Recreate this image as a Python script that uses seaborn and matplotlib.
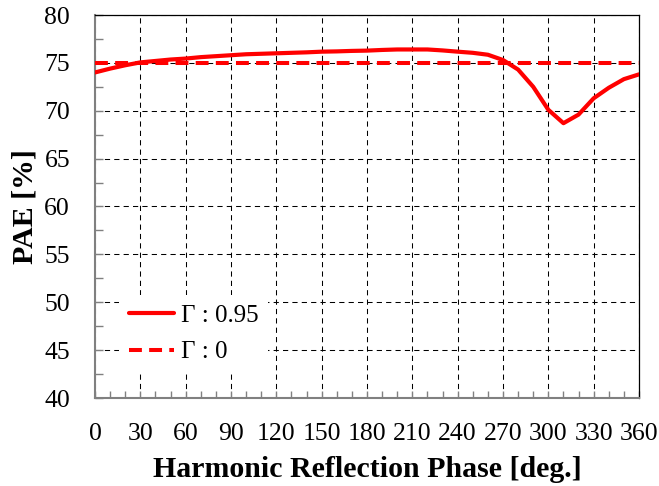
import numpy as np
import pandas as pd
import matplotlib
matplotlib.use("Agg")
import matplotlib.pyplot as plt
from matplotlib.ticker import MultipleLocator
import seaborn as sns

# Harmonic reflection phase sweep (degrees) and PAE (%)
phase = [0, 10, 20, 30, 40, 50, 60, 70, 80, 90, 100, 110, 120, 130, 140, 150,
         160, 170, 180, 190, 200, 210, 220, 230, 240, 250, 260, 270, 280, 290,
         300, 310, 320, 330, 340, 350, 360]
pae_gamma_095 = [74.0, 74.4, 74.75, 75.05, 75.2, 75.35, 75.45, 75.6, 75.7, 75.8,
                 75.9, 75.95, 76.0, 76.05, 76.1, 76.17, 76.2, 76.25, 76.28, 76.35,
                 76.4, 76.4, 76.4, 76.3, 76.17, 76.05, 75.85, 75.3, 74.3, 72.5,
                 70.1, 68.7, 69.6, 71.3, 72.4, 73.3, 73.8]
phase_gamma_0 = [0, 360]
pae_gamma_0 = [75.0, 75.0]

labels = ["\u0393 : 0.95", "\u0393 : 0"]
x_ticks = [0, 30, 60, 90, 120, 150, 180, 210, 240, 270, 300, 330, 360]
y_ticks = [40, 45, 50, 55, 60, 65, 70, 75, 80]

sns.set_theme(style="white")
plt.rcParams["font.family"] = ["Liberation Serif", "DejaVu Serif"]
plt.rcParams["text.color"] = "black"
plt.rcParams["axes.labelcolor"] = "black"

df = pd.concat([
    pd.DataFrame({"phase": phase, "pae": pae_gamma_095, "case": labels[0]}),
    pd.DataFrame({"phase": phase_gamma_0, "pae": pae_gamma_0, "case": labels[1]}),
])

fig = plt.figure(figsize=(6.59, 4.86), dpi=100)
ax = fig.add_axes([95 / 659, 1 - 398 / 486, 544 / 659, 383 / 486])

sns.lineplot(data=df[df["case"] == labels[0]], x="phase", y="pae", ax=ax,
             color="#ff0000", linewidth=3.0, label=labels[0], zorder=4)
sns.lineplot(data=df[df["case"] == labels[1]], x="phase", y="pae", ax=ax,
             color="#ff0000", linewidth=2.9, label=labels[1], zorder=4)
dash_line = ax.get_lines()[1]
dash_line.set_linestyle((0, (3.2, 1.8)))

ax.set_xlim(0, 360)
ax.set_ylim(40, 80)
ax.set_xticks(x_ticks)
ax.set_yticks(y_ticks)
ax.xaxis.set_minor_locator(MultipleLocator(10))
ax.yaxis.set_minor_locator(MultipleLocator(2.5))

ax.grid(True, which="major", color="black", linestyle=(0, (5, 4)), linewidth=0.75)
ax.set_axisbelow(True)

ax.tick_params(axis="both", which="both", direction="in", color="#808080",
               width=1.0, labelsize=18.5, labelcolor="black")
ax.tick_params(axis="y", which="both", length=6, pad=18, left=True)
ax.tick_params(axis="x", which="both", length=5, pad=18, bottom=True)

for side in ("left", "bottom"):
    ax.spines[side].set_color("#808080")
    ax.spines[side].set_linewidth(1.5)
for side in ("top", "right"):
    ax.spines[side].set_color("black")
    ax.spines[side].set_linewidth(0.9)

ax.set_xlabel("Harmonic Reflection Phase [deg.]", fontsize=21.5,
              fontweight="bold", labelpad=8, color="black")
ax.set_ylabel("PAE [%]", fontsize=21.5, fontweight="bold", labelpad=4,
              color="black")

leg = ax.legend(loc="center left", bbox_to_anchor=(0.022, 0.167), fontsize=18,
                frameon=True, framealpha=1, facecolor="white", edgecolor="none",
                handlelength=1.8, handletextpad=0.25, labelspacing=0.55,
                borderpad=0.4, fancybox=False)
leg.set_zorder(5)
leg.get_frame().set_linewidth(0)
for txt in leg.get_texts():
    txt.set_color("black")

fig.savefig("out.png", dpi=100)
